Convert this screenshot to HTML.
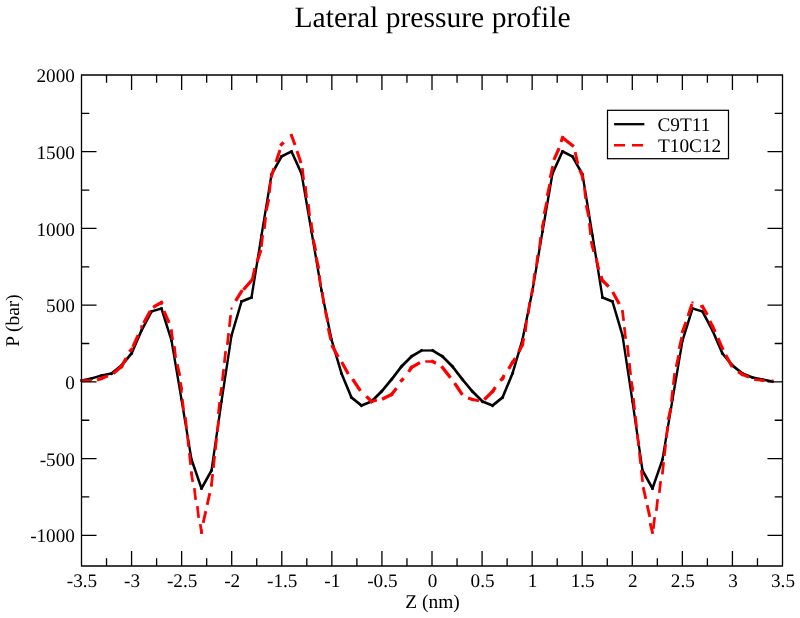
<!DOCTYPE html><html><head><meta charset="utf-8"><style>html,body{margin:0;padding:0;background:#fff;}svg{display:block;will-change:transform;}text{font-family:"Liberation Serif", serif;fill:#000;text-rendering:geometricPrecision;}</style></head><body>
<svg width="800" height="618" viewBox="0 0 800 618">
<rect width="800" height="618" fill="#fff"/>
<text x="432.5" y="26.8" font-size="29.6" text-anchor="middle">Lateral pressure profile</text>
<defs><clipPath id="c"><rect x="80.0" y="75.0" width="702.5" height="491.0"/></clipPath></defs>
<g clip-path="url(#c)" fill="none">
<g stroke="#000" stroke-linecap="square"><path d="M81.5,380.5L91.5,378.5" stroke-width="2.41"/><path d="M91.5,378.5L101.5,375.5" stroke-width="2.49"/><path d="M101.5,375.5L111.5,373.5" stroke-width="2.41"/><path d="M111.5,373.5L121.5,365.5" stroke-width="2.69"/><path d="M121.5,365.5L131.5,353.5" stroke-width="2.69"/><path d="M131.5,353.5L141.5,330.5" stroke-width="2.58"/><path d="M141.5,330.5L151.5,311.5" stroke-width="2.62"/><path d="M151.5,311.5L161.5,308.5" stroke-width="2.49"/><path d="M161.5,308.5L171.5,340.5" stroke-width="2.50"/><path d="M171.5,340.5L181.5,399.5" stroke-width="2.38"/><path d="M181.5,399.5L191.5,459.5" stroke-width="2.38"/><path d="M191.5,459.5L201.5,488.5" stroke-width="2.53"/><path d="M201.5,488.5L211.5,470.5" stroke-width="2.63"/><path d="M211.5,470.5L221.5,401.5" stroke-width="2.36"/><path d="M221.5,401.5L231.5,335.5" stroke-width="2.37"/><path d="M231.5,335.5L241.5,301.5" stroke-width="2.49"/><path d="M241.5,301.5L251.5,297.5" stroke-width="2.56"/><path d="M251.5,297.5L261.5,235.5" stroke-width="2.38"/><path d="M261.5,235.5L271.5,174.5" stroke-width="2.38"/><path d="M271.5,174.5L281.5,156.5" stroke-width="2.63"/><path d="M281.5,156.5L291.5,151.5" stroke-width="2.61"/><path d="M291.5,151.5L301.5,173.5" stroke-width="2.59"/><path d="M301.5,173.5L311.5,231.5" stroke-width="2.39"/><path d="M311.5,231.5L321.5,290.5" stroke-width="2.38"/><path d="M321.5,290.5L331.5,339.5" stroke-width="2.42"/><path d="M331.5,339.5L341.5,373.5" stroke-width="2.49"/><path d="M341.5,373.5L351.5,397.5" stroke-width="2.57"/><path d="M351.5,397.5L361.5,405.5" stroke-width="2.69"/><path d="M361.5,405.5L371.5,401.5" stroke-width="2.56"/><path d="M371.5,401.5L381.5,391.5" stroke-width="2.70"/><path d="M381.5,391.5L391.5,379.5" stroke-width="2.69"/><path d="M391.5,379.5L401.5,366.5" stroke-width="2.68"/><path d="M401.5,366.5L411.5,356.5" stroke-width="2.70"/><path d="M411.5,356.5L421.5,350.5" stroke-width="2.65"/><path d="M421.5,350.5L432.5,350.5" stroke-width="2.20"/><path d="M432.5,350.5L442.5,356.5" stroke-width="2.65"/><path d="M442.5,356.5L452.5,366.5" stroke-width="2.70"/><path d="M452.5,366.5L462.5,379.5" stroke-width="2.68"/><path d="M462.5,379.5L472.5,391.5" stroke-width="2.69"/><path d="M472.5,391.5L482.5,401.5" stroke-width="2.70"/><path d="M482.5,401.5L492.5,405.5" stroke-width="2.56"/><path d="M492.5,405.5L502.5,397.5" stroke-width="2.69"/><path d="M502.5,397.5L512.5,373.5" stroke-width="2.57"/><path d="M512.5,373.5L522.5,339.5" stroke-width="2.49"/><path d="M522.5,339.5L532.5,290.5" stroke-width="2.42"/><path d="M532.5,290.5L542.5,231.5" stroke-width="2.38"/><path d="M542.5,231.5L552.5,173.5" stroke-width="2.39"/><path d="M552.5,173.5L562.5,151.5" stroke-width="2.59"/><path d="M562.5,151.5L572.5,156.5" stroke-width="2.61"/><path d="M572.5,156.5L582.5,174.5" stroke-width="2.63"/><path d="M582.5,174.5L592.5,235.5" stroke-width="2.38"/><path d="M592.5,235.5L602.5,297.5" stroke-width="2.38"/><path d="M602.5,297.5L612.5,301.5" stroke-width="2.56"/><path d="M612.5,301.5L622.5,335.5" stroke-width="2.49"/><path d="M622.5,335.5L632.5,401.5" stroke-width="2.37"/><path d="M632.5,401.5L642.5,470.5" stroke-width="2.36"/><path d="M642.5,470.5L652.5,488.5" stroke-width="2.63"/><path d="M652.5,488.5L662.5,459.5" stroke-width="2.53"/><path d="M662.5,459.5L672.5,399.5" stroke-width="2.38"/><path d="M672.5,399.5L682.5,340.5" stroke-width="2.38"/><path d="M682.5,340.5L692.5,308.5" stroke-width="2.50"/><path d="M692.5,308.5L702.5,311.5" stroke-width="2.49"/><path d="M702.5,311.5L712.5,330.5" stroke-width="2.62"/><path d="M712.5,330.5L722.5,353.5" stroke-width="2.58"/><path d="M722.5,353.5L732.5,365.5" stroke-width="2.69"/><path d="M732.5,365.5L742.5,373.5" stroke-width="2.69"/><path d="M742.5,373.5L752.5,377.5" stroke-width="2.56"/><path d="M752.5,377.5L762.5,379.5" stroke-width="2.41"/><path d="M762.5,379.5L772.5,381.5" stroke-width="2.41"/></g>
<g stroke="#f00" stroke-linecap="square"><path d="M81.5,380.5L90.5,380.5" stroke-width="2.50"/><path d="M98.5,379.5L101.5,378.5" stroke-width="3.03"/><path d="M101.5,378.5L106.5,376.5" stroke-width="3.10"/><path d="M114.5,372.5L121.5,366.5" stroke-width="3.32"/><path d="M131.5,349.5L130.5,350.5" stroke-width="3.33"/><path d="M125.5,359.5L121.5,366.5" stroke-width="3.23"/><path d="M141.5,326.5L141.5,327.5" stroke-width="2.50"/><path d="M137.5,336.5L133.5,345.5" stroke-width="3.14"/><path d="M149.5,312.5L144.5,321.5" stroke-width="3.22"/><path d="M154.5,306.5L161.5,302.5" stroke-width="3.23"/><path d="M161.5,302.5L161.5,303.5" stroke-width="2.50"/><path d="M164.5,312.5L168.5,321.5" stroke-width="3.14"/><path d="M171.5,330.5L171.5,331.5" stroke-width="2.50"/><path d="M171.5,331.5L172.5,338.5" stroke-width="2.76"/><path d="M174.5,347.5L175.5,356.5" stroke-width="2.71"/><path d="M177.5,365.5L179.5,374.5" stroke-width="2.89"/><path d="M180.5,383.5L181.5,388.5" stroke-width="2.85"/><path d="M181.5,388.5L181.5,391.5" stroke-width="2.50"/><path d="M182.5,400.5L183.5,409.5" stroke-width="2.71"/><path d="M185.5,418.5L186.5,427.5" stroke-width="2.71"/><path d="M187.5,436.5L188.5,445.5" stroke-width="2.71"/><path d="M189.5,454.5L190.5,463.5" stroke-width="2.71"/><path d="M191.5,472.5L191.5,473.5" stroke-width="2.50"/><path d="M191.5,473.5L192.5,480.5" stroke-width="2.76"/><path d="M194.5,489.5L195.5,498.5" stroke-width="2.71"/><path d="M197.5,507.5L198.5,516.5" stroke-width="2.71"/><path d="M200.5,525.5L201.5,532.5" stroke-width="2.76"/><path d="M211.5,484.5L211.5,485.5" stroke-width="2.50"/><path d="M209.5,494.5L207.5,503.5" stroke-width="2.89"/><path d="M205.5,512.5L203.5,521.5" stroke-width="2.89"/><path d="M201.5,530.5L201.5,532.5" stroke-width="2.50"/><path d="M221.5,388.5L220.5,394.5" stroke-width="2.80"/><path d="M219.5,403.5L218.5,412.5" stroke-width="2.71"/><path d="M218.5,421.5L217.5,430.5" stroke-width="2.71"/><path d="M216.5,439.5L215.5,448.5" stroke-width="2.71"/><path d="M214.5,457.5L213.5,466.5" stroke-width="2.71"/><path d="M212.5,475.5L211.5,484.5" stroke-width="2.71"/><path d="M230.5,316.5L229.5,325.5" stroke-width="2.71"/><path d="M228.5,334.5L227.5,343.5" stroke-width="2.71"/><path d="M225.5,352.5L224.5,361.5" stroke-width="2.71"/><path d="M223.5,370.5L222.5,379.5" stroke-width="2.71"/><rect x="220.5" y="387.5" width="2.0" height="2.0" fill="#e00" stroke="none"/><path d="M241.5,291.5L236.5,299.5" stroke-width="3.26"/><rect x="230.5" y="307.5" width="2.0" height="2.0" fill="#e00" stroke="none"/><path d="M251.5,280.5L244.5,288.5" stroke-width="3.32"/><path d="M260.5,251.5L257.5,260.5" stroke-width="3.03"/><path d="M254.5,269.5L252.5,278.5" stroke-width="2.89"/><path d="M270.5,182.5L269.5,191.5" stroke-width="2.71"/><path d="M268.5,200.5L266.5,209.5" stroke-width="2.89"/><path d="M265.5,218.5L264.5,227.5" stroke-width="2.71"/><path d="M262.5,236.5L261.5,245.5" stroke-width="2.71"/><path d="M279.5,151.5L276.5,160.5" stroke-width="3.03"/><path d="M273.5,169.5L271.5,176.5" stroke-width="2.97"/><path d="M281.5,144.5L282.5,143.5" stroke-width="3.33"/><rect x="290.5" y="134.5" width="2.0" height="2.0" fill="#e00" stroke="none"/><path d="M291.5,135.5L294.5,143.5" stroke-width="3.07"/><path d="M297.5,152.5L300.5,161.5" stroke-width="3.03"/><path d="M302.5,169.5L303.5,178.5" stroke-width="2.71"/><path d="M305.5,187.5L306.5,196.5" stroke-width="2.71"/><path d="M308.5,205.5L309.5,214.5" stroke-width="2.71"/><path d="M311.5,223.5L311.5,226.5" stroke-width="2.50"/><path d="M311.5,226.5L312.5,231.5" stroke-width="2.85"/><path d="M313.5,240.5L315.5,249.5" stroke-width="2.89"/><path d="M316.5,258.5L318.5,267.5" stroke-width="2.89"/><path d="M319.5,276.5L320.5,285.5" stroke-width="2.71"/><path d="M322.5,293.5L323.5,302.5" stroke-width="2.71"/><path d="M325.5,311.5L327.5,320.5" stroke-width="2.89"/><path d="M328.5,329.5L330.5,338.5" stroke-width="2.89"/><path d="M332.5,346.5L337.5,355.5" stroke-width="3.22"/><path d="M342.5,363.5L347.5,372.5" stroke-width="3.22"/><path d="M353.5,380.5L359.5,389.5" stroke-width="3.27"/><path d="M367.5,397.5L371.5,401.5" stroke-width="3.33"/><path d="M371.5,401.5L375.5,400.5" stroke-width="2.93"/><path d="M383.5,398.5L391.5,394.5" stroke-width="3.18"/><rect x="400.5" y="379.5" width="2.0" height="2.0" fill="#e00" stroke="none"/><path d="M395.5,389.5L391.5,394.5" stroke-width="3.31"/><path d="M411.5,367.5L409.5,370.5" stroke-width="3.27"/><path d="M402.5,379.5L401.5,380.5" stroke-width="3.33"/><path d="M411.5,367.5L418.5,363.5" stroke-width="3.23"/><path d="M426.5,361.5L432.5,361.5" stroke-width="2.50"/><path d="M432.5,361.5L434.5,362.5" stroke-width="3.18"/><path d="M442.5,367.5L449.5,376.5" stroke-width="3.31"/><path d="M455.5,384.5L461.5,393.5" stroke-width="3.27"/><path d="M469.5,398.5L472.5,399.5" stroke-width="3.03"/><path d="M472.5,399.5L477.5,400.5" stroke-width="2.85"/><path d="M485.5,398.5L492.5,391.5" stroke-width="3.33"/><path d="M502.5,378.5L501.5,379.5" stroke-width="3.33"/><path d="M494.5,388.5L492.5,391.5" stroke-width="3.27"/><path d="M512.5,362.5L509.5,367.5" stroke-width="3.24"/><path d="M503.5,376.5L502.5,378.5" stroke-width="3.18"/><path d="M522.5,344.5L519.5,350.5" stroke-width="3.18"/><path d="M514.5,359.5L512.5,362.5" stroke-width="3.27"/><path d="M532.5,289.5L531.5,294.5" stroke-width="2.85"/><path d="M529.5,303.5L528.5,312.5" stroke-width="2.71"/><path d="M526.5,321.5L525.5,330.5" stroke-width="2.71"/><path d="M523.5,339.5L522.5,344.5" stroke-width="2.85"/><path d="M542.5,226.5L542.5,229.5" stroke-width="2.50"/><path d="M540.5,238.5L539.5,247.5" stroke-width="2.71"/><path d="M537.5,256.5L536.5,265.5" stroke-width="2.71"/><path d="M534.5,274.5L533.5,283.5" stroke-width="2.71"/><path d="M552.5,167.5L550.5,176.5" stroke-width="2.89"/><path d="M549.5,185.5L547.5,194.5" stroke-width="2.89"/><path d="M546.5,203.5L544.5,212.5" stroke-width="2.89"/><path d="M543.5,221.5L542.5,226.5" stroke-width="2.85"/><path d="M562.5,137.5L561.5,140.5" stroke-width="3.03"/><path d="M558.5,149.5L554.5,158.5" stroke-width="3.14"/><path d="M563.5,138.5L572.5,145.5" stroke-width="3.31"/><path d="M575.5,153.5L577.5,162.5" stroke-width="2.89"/><path d="M580.5,171.5L582.5,176.5" stroke-width="3.10"/><path d="M582.5,176.5L582.5,179.5" stroke-width="2.50"/><path d="M584.5,188.5L585.5,197.5" stroke-width="2.71"/><path d="M586.5,206.5L588.5,215.5" stroke-width="2.89"/><path d="M589.5,224.5L590.5,233.5" stroke-width="2.71"/><path d="M591.5,242.5L592.5,246.5" stroke-width="2.93"/><path d="M592.5,246.5L593.5,250.5" stroke-width="2.93"/><path d="M596.5,259.5L598.5,268.5" stroke-width="2.89"/><path d="M601.5,277.5L602.5,280.5" stroke-width="3.03"/><path d="M602.5,280.5L607.5,285.5" stroke-width="3.33"/><path d="M613.5,293.5L618.5,302.5" stroke-width="3.22"/><rect x="621.5" y="310.5" width="2.0" height="2.0" fill="#e00" stroke="none"/><path d="M622.5,311.5L623.5,319.5" stroke-width="2.73"/><path d="M624.5,328.5L625.5,337.5" stroke-width="2.71"/><path d="M627.5,346.5L628.5,355.5" stroke-width="2.71"/><path d="M629.5,364.5L630.5,373.5" stroke-width="2.71"/><path d="M631.5,382.5L632.5,388.5" stroke-width="2.80"/><path d="M632.5,388.5L632.5,390.5" stroke-width="2.50"/><path d="M633.5,399.5L634.5,408.5" stroke-width="2.71"/><path d="M635.5,417.5L636.5,426.5" stroke-width="2.71"/><path d="M637.5,435.5L638.5,444.5" stroke-width="2.71"/><path d="M639.5,453.5L640.5,462.5" stroke-width="2.71"/><path d="M641.5,471.5L642.5,480.5" stroke-width="2.71"/><path d="M643.5,488.5L645.5,497.5" stroke-width="2.89"/><path d="M647.5,506.5L649.5,515.5" stroke-width="2.89"/><path d="M650.5,524.5L652.5,532.5" stroke-width="2.93"/><rect x="661.5" y="472.5" width="2.0" height="2.0" fill="#e00" stroke="none"/><path d="M660.5,482.5L659.5,491.5" stroke-width="2.71"/><path d="M657.5,500.5L656.5,509.5" stroke-width="2.71"/><path d="M654.5,518.5L653.5,527.5" stroke-width="2.71"/><path d="M672.5,391.5L671.5,400.5" stroke-width="2.71"/><path d="M670.5,409.5L668.5,418.5" stroke-width="2.89"/><path d="M667.5,427.5L666.5,436.5" stroke-width="2.71"/><path d="M665.5,445.5L664.5,454.5" stroke-width="2.71"/><path d="M663.5,463.5L662.5,472.5" stroke-width="2.71"/><path d="M681.5,338.5L679.5,347.5" stroke-width="2.89"/><path d="M678.5,356.5L676.5,365.5" stroke-width="2.89"/><path d="M674.5,374.5L673.5,383.5" stroke-width="2.71"/><path d="M691.5,305.5L688.5,314.5" stroke-width="3.03"/><path d="M685.5,323.5L682.5,331.5" stroke-width="3.07"/><rect x="691.5" y="301.5" width="2.0" height="2.0" fill="#e00" stroke="none"/><path d="M701.5,306.5L702.5,306.5" stroke-width="2.50"/><path d="M702.5,306.5L706.5,313.5" stroke-width="3.23"/><path d="M710.5,322.5L712.5,326.5" stroke-width="3.18"/><path d="M712.5,326.5L714.5,330.5" stroke-width="3.18"/><path d="M718.5,339.5L722.5,348.5" stroke-width="3.14"/><path d="M726.5,356.5L731.5,365.5" stroke-width="3.22"/><path d="M739.5,372.5L742.5,374.5" stroke-width="3.27"/><path d="M742.5,374.5L747.5,376.5" stroke-width="3.10"/><path d="M755.5,379.5L762.5,380.5" stroke-width="2.76"/><path d="M762.5,380.5L763.5,380.5" stroke-width="2.50"/><rect x="771.5" y="379.5" width="2.0" height="2.0" fill="#e00" stroke="none"/></g>
</g>
<path d="M81.5,75.0 H782.5 V566.0 H81.5 Z M106.54,566.0 v-7.8 M106.54,75.0 v7.8 M131.57,566.0 v-15.0 M131.57,75.0 v15.0 M156.61,566.0 v-7.8 M156.61,75.0 v7.8 M181.64,566.0 v-15.0 M181.64,75.0 v15.0 M206.68,566.0 v-7.8 M206.68,75.0 v7.8 M231.71,566.0 v-15.0 M231.71,75.0 v15.0 M256.75,566.0 v-7.8 M256.75,75.0 v7.8 M281.79,566.0 v-15.0 M281.79,75.0 v15.0 M306.82,566.0 v-7.8 M306.82,75.0 v7.8 M331.86,566.0 v-15.0 M331.86,75.0 v15.0 M356.89,566.0 v-7.8 M356.89,75.0 v7.8 M381.93,566.0 v-15.0 M381.93,75.0 v15.0 M406.96,566.0 v-7.8 M406.96,75.0 v7.8 M432.00,566.0 v-15.0 M432.00,75.0 v15.0 M457.04,566.0 v-7.8 M457.04,75.0 v7.8 M482.07,566.0 v-15.0 M482.07,75.0 v15.0 M507.11,566.0 v-7.8 M507.11,75.0 v7.8 M532.14,566.0 v-15.0 M532.14,75.0 v15.0 M557.18,566.0 v-7.8 M557.18,75.0 v7.8 M582.21,566.0 v-15.0 M582.21,75.0 v15.0 M607.25,566.0 v-7.8 M607.25,75.0 v7.8 M632.29,566.0 v-15.0 M632.29,75.0 v15.0 M657.32,566.0 v-7.8 M657.32,75.0 v7.8 M682.36,566.0 v-15.0 M682.36,75.0 v15.0 M707.39,566.0 v-7.8 M707.39,75.0 v7.8 M732.43,566.0 v-15.0 M732.43,75.0 v15.0 M757.46,566.0 v-7.8 M757.46,75.0 v7.8 M81.5,535.31 h15.0 M782.5,535.31 h-15.0 M81.5,496.95 h7.8 M782.5,496.95 h-7.8 M81.5,458.59 h15.0 M782.5,458.59 h-15.0 M81.5,420.23 h7.8 M782.5,420.23 h-7.8 M81.5,381.88 h15.0 M782.5,381.88 h-15.0 M81.5,343.52 h7.8 M782.5,343.52 h-7.8 M81.5,305.16 h15.0 M782.5,305.16 h-15.0 M81.5,266.80 h7.8 M782.5,266.80 h-7.8 M81.5,228.44 h15.0 M782.5,228.44 h-15.0 M81.5,190.08 h7.8 M782.5,190.08 h-7.8 M81.5,151.72 h15.0 M782.5,151.72 h-15.0 M81.5,113.36 h7.8 M782.5,113.36 h-7.8" fill="none" stroke="#000" stroke-width="1.3"/>
<text x="82.00" y="587" font-size="19.2" text-anchor="middle">-3.5</text>
<text x="132.07" y="587" font-size="19.2" text-anchor="middle">-3</text>
<text x="182.14" y="587" font-size="19.2" text-anchor="middle">-2.5</text>
<text x="232.21" y="587" font-size="19.2" text-anchor="middle">-2</text>
<text x="282.29" y="587" font-size="19.2" text-anchor="middle">-1.5</text>
<text x="332.36" y="587" font-size="19.2" text-anchor="middle">-1</text>
<text x="382.43" y="587" font-size="19.2" text-anchor="middle">-0.5</text>
<text x="432.50" y="587" font-size="19.2" text-anchor="middle">0</text>
<text x="482.57" y="587" font-size="19.2" text-anchor="middle">0.5</text>
<text x="532.64" y="587" font-size="19.2" text-anchor="middle">1</text>
<text x="582.71" y="587" font-size="19.2" text-anchor="middle">1.5</text>
<text x="632.79" y="587" font-size="19.2" text-anchor="middle">2</text>
<text x="682.86" y="587" font-size="19.2" text-anchor="middle">2.5</text>
<text x="732.93" y="587" font-size="19.2" text-anchor="middle">3</text>
<text x="783.00" y="587" font-size="19.2" text-anchor="middle">3.5</text>
<text x="74.9" y="542.41" font-size="19.2" text-anchor="end">-1000</text>
<text x="74.9" y="465.69" font-size="19.2" text-anchor="end">-500</text>
<text x="74.9" y="388.98" font-size="19.2" text-anchor="end">0</text>
<text x="74.9" y="312.26" font-size="19.2" text-anchor="end">500</text>
<text x="74.9" y="235.54" font-size="19.2" text-anchor="end">1000</text>
<text x="74.9" y="158.82" font-size="19.2" text-anchor="end">1500</text>
<text x="74.9" y="82.10" font-size="19.2" text-anchor="end">2000</text>
<text x="432.5" y="607.5" font-size="19.4" text-anchor="middle">Z (nm)</text>
<text transform="translate(19,320.5) rotate(-90)" x="0" y="0" font-size="19.4" text-anchor="middle">P (bar)</text>
<rect x="607.5" y="110.3" width="121" height="48.4" fill="#fff" stroke="#000" stroke-width="1.25"/>
<path d="M614.1,124.2 H644.4" stroke="#000" stroke-width="2.3"/>
<path d="M614.0,145.2 H625.0 M632.0,145.2 H643.0" stroke="#f00" stroke-width="2.5"/>
<text x="657.5" y="131.0" font-size="19.3">C9T11</text>
<text x="658" y="151.7" font-size="19.3">T10C12</text>
</svg></body></html>
